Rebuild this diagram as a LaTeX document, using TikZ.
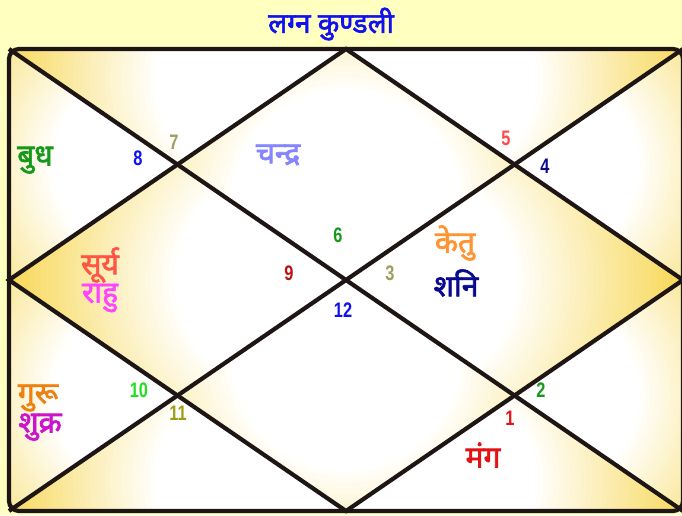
\documentclass[tikz,border=0pt]{standalone}
\usepackage{fontspec}
\usepackage{tikz}
\usetikzlibrary{calc}
\newfontfamily\devafont[Script=Devanagari,FakeBold=2.2]{Noto Sans}
\newfontfamily\ankfont[FakeStretch=0.78]{Liberation Sans}
\definecolor{kbg}{HTML}{FFFFC0}
\definecolor{kgold}{HTML}{F7D650}
\definecolor{kline}{HTML}{1E1614}
\definecolor{kblue}{HTML}{1010F0}
\definecolor{kgreen}{HTML}{16991A}
\definecolor{kolive}{HTML}{9E9E60}
\definecolor{kpurple}{HTML}{8585FF}
\definecolor{kdred}{HTML}{B81414}
\definecolor{kred}{HTML}{E01414}
\definecolor{kpink}{HTML}{FF4A4A}
\definecolor{knavy}{HTML}{0A0A90}
\definecolor{korange}{HTML}{FF9430}
\definecolor{ktomato}{HTML}{FF5544}
\definecolor{kmagenta}{HTML}{FF44FF}
\definecolor{kguru}{HTML}{EE8012}
\definecolor{kshukra}{HTML}{CC14CC}
\definecolor{klime}{HTML}{22DD22}
\definecolor{kkhaki}{HTML}{9C9C14}
\tikzset{
  rekha/.style={draw=kline,line width=4.2pt},
  grah/.style={font=\devafont\fontsize{30}{31}\selectfont,inner sep=0pt},
  ank/.style={font=\ankfont\bfseries\fontsize{21}{22}\selectfont,inner sep=0pt},
  shirsh/.style={font=\devafont\fontsize{28}{30}\selectfont,text=kblue,inner sep=0pt},
}
\begin{document}
\begin{tikzpicture}[x=1pt,y=-1pt]
  \fill[kbg] (0,0) rectangle (682,515);
  \useasboundingbox (0,0) rectangle (682,515);
  % chart corners and cross points
  \coordinate (tl) at (9,49);    \coordinate (tr) at (683,49);
  \coordinate (bl) at (9,511);   \coordinate (br) at (683,511);
  \coordinate (tm) at (346,49);  \coordinate (bm) at (346,511);
  \coordinate (lm) at (9,280);   \coordinate (rm) at (683,280);
  \coordinate (c) at (346,280);
  \coordinate (a1) at (177.5,164.5); \coordinate (a2) at (514.5,164.5);
  \coordinate (a3) at (177.5,395.5); \coordinate (a4) at (514.5,395.5);
  % shading of the twelve houses: white spot fading to gold
  \begin{scope}
    \clip[rounded corners=10pt] (tl) rectangle (br);
    \fill[kgold] (tl) rectangle (br);
    \foreach \reg/\sx/\sy/\rr in {
      {(tm)--(a2)--(c)--(a1)}/346/205/290,
      {(tm)--(tr)--(a2)}/430/80/270,
      {(tr)--(rm)--(a2)}/540/165/250,
      {(a2)--(rm)--(a4)--(c)}/402/280/290,
      {(rm)--(br)--(a4)}/540/395/250,
      {(br)--(bm)--(a4)}/430/480/270,
      {(c)--(a4)--(bm)--(a3)}/346/355/290,
      {(bm)--(bl)--(a3)}/262/480/270,
      {(bl)--(lm)--(a3)}/152/395/250,
      {(c)--(a3)--(lm)--(a1)}/290/280/290,
      {(lm)--(tl)--(a1)}/152/165/250,
      {(tl)--(tm)--(a1)}/262/80/270} {
      \begin{scope}
        \clip \reg -- cycle;
        \foreach \k in {0,...,30} {
          \pgfmathsetmacro{\pc}{100*(1-\k/30)}
          \pgfmathsetmacro{\rad}{\rr*(1-0.6*\k/30)}
          \fill[kgold!\pc!white] (\sx,\sy) circle[radius=\rad pt];
        }
      \end{scope}
    }
  \end{scope}
  % lines of the chart
  \draw[rekha,rounded corners=10pt] (tl) rectangle (br);
  \draw[rekha] (tl) -- (br);
  \draw[rekha] (tr) -- (bl);
  \draw[rekha] (tm) -- (rm) -- (bm) -- (lm) -- cycle;
  % title
  \node[shirsh] (title) at (331,24) {लग्न कुण्डली};
  % house numbers
  \foreach \n/\x/\y/\c in {1/510/418/kred, 2/541/390/kgreen, 3/390/273/kolive,
      4/545/166/knavy, 5/506/138/kpink, 6/338/235/kgreen, 7/174/142/kolive,
      8/138/158/kblue, 9/289/273/kdred, 10/139/390/klime, 11/178/413/kkhaki,
      12/343/310/kblue} {
    \node[ank,text=\c] (h\n) at (\x,\y) {\n};
  }
  % planets
  \foreach \g/\x/\y/\c [count=\ix] in {बुध/35/160/kgreen, चन्द्र/278/155/kpurple,
      सूर्य/100/265/ktomato, राहु/100/298/kmagenta, केतु/455/243/korange,
      शनि/456/283/knavy, गुरू/38/398/kguru, शुक्र/40/427/kshukra,
      मंग/483/455/kred} {
    \node[grah,text=\c] (g\ix) at (\x,\y) {\g};
  }
\end{tikzpicture}
\end{document}
